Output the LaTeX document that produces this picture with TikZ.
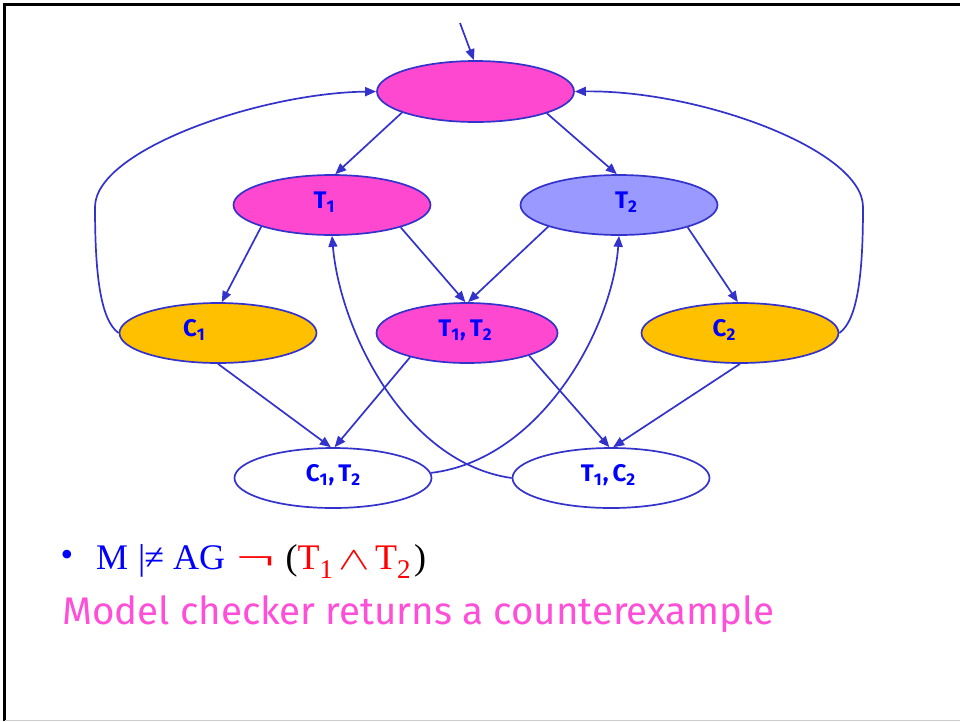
\documentclass[tikz,border=0pt]{standalone}
\usepackage{graphicx}
\usepackage{fontspec}
\setmainfont{Liberation Serif}
\newfontfamily\labfont{Fira Sans}
\newfontfamily\casualfont{Fira Sans}
\usetikzlibrary{shapes.geometric,arrows.meta}
\definecolor{edgeblue}{HTML}{3333CC}
\definecolor{pinkfill}{HTML}{FF48D0}
\definecolor{lavfill}{HTML}{9999FF}
\definecolor{goldfill}{HTML}{FFC000}
\definecolor{labblue}{HTML}{0000FF}
\definecolor{pinktext}{HTML}{FF4FD8}
\definecolor{fred}{HTML}{FF0000}
\definecolor{fblue}{HTML}{0000FF}
\newcommand{\labsub}[1]{\raisebox{-4pt}{\fontsize{17}{18}\selectfont #1}}
\begin{document}
\begin{tikzpicture}[x=1pt,y=-1pt,
  state/.style={ellipse, draw=edgeblue, line width=1.7pt, inner sep=0pt,
    minimum width=197pt, minimum height=60pt},
  lab/.style={font=\labfont\bfseries\fontsize{24}{26}\selectfont, text=labblue, inner sep=0pt},
  conn/.style={draw=edgeblue, line width=1.7pt, -{Triangle[length=11pt,width=9pt]}},
  frameline/.style={draw=black, line width=2.5pt},
]
\useasboundingbox (0,0) rectangle (960,721);
\fill[white] (0,0) rectangle (960,721);
% frame
\draw[frameline] (3.2,4.5) -- (960,4.5);
\draw[frameline] (4.5,3.2) -- (4.5,721);
\draw[gray!40, line width=1pt] (4.5,720.5) -- (960,720.5);

% states
\node[state, fill=pinkfill, minimum width=197pt, minimum height=61pt] (top) at (475.5,91.5) {};
\node[state, fill=pinkfill, label={[lab,xshift=-8pt,yshift=3pt]center:T\labsub{1}}] (t1) at (332,205) {};
\node[state, fill=lavfill, label={[lab,xshift=7pt,yshift=3pt]center:T\labsub{2}}] (t2) at (619,205) {};
\node[state, fill=goldfill, label={[lab,xshift=-24pt,yshift=3pt]center:C\labsub{1}}] (c1) at (218,333) {};
\node[state, fill=pinkfill, minimum width=181pt, label={[lab,xshift=-2pt,yshift=3pt]center:{T\labsub{1}\kern1pt,\kern4pt T\labsub{2}}}] (t1t2) at (467,333) {};
\node[state, fill=goldfill, label={[lab,xshift=-16pt,yshift=3pt]center:C\labsub{2}}] (c2) at (740,333) {};
\node[state, fill=white, label={[lab,xshift=0pt,yshift=3pt]center:{C\labsub{1}\kern1pt,\kern4pt T\labsub{2}}}] (c1t2) at (333,478) {};
\node[state, fill=white, label={[lab,xshift=-3pt,yshift=3pt]center:{T\labsub{1}\kern1pt,\kern4pt C\labsub{2}}}] (t1c2) at (611,478) {};
\coordinate (init) at (460,23);

% straight transitions
\draw[conn] (init) -- (top.93);
\draw[conn] (top.196) -- (t1.84);
\draw[conn] (top.343.6) -- (t2.94);
\draw[conn] (t1.197) -- (c1.83);
\draw[conn] (t1.342) -- (t1t2.93);
\draw[conn] (t2.197) -- (t1t2.88);
\draw[conn] (t2.342.6) -- (c2.94);
\draw[conn] (c1.270) -- (c1t2.94);
\draw[conn] (t1t2.203.6) -- (c1t2.87);
\draw[conn] (t1t2.340) -- (t1c2.93);
\draw[conn] (c2.270) -- (t1c2.86);

% curved transitions
\draw[conn] (c1t2.3) .. controls (540,460) and (612,330) .. (t2.270);
\draw[conn] (t1c2.180) .. controls (405,463) and (340,330) .. (t1.270);
\draw[conn] (c1.180) .. controls (100,320) and (95,272) .. (95,207)
   .. controls (95,150) and (260,93) .. (top.180);
\draw[conn] (c2.0) .. controls (858,320) and (863,272) .. (863,207)
   .. controls (863,150) and (700,90) .. (top.0);

% text
\node[text=fblue, font=\fontsize{36}{40}\selectfont, inner sep=0pt] (bullet) at (67,558) {•};
\node[anchor=base west, inner sep=0pt, font=\fontsize{36}{40}\selectfont] (formula) at (96,569)
  {\color{fblue}M\hspace{10pt}|\kern-1pt≠\hspace{9pt}AG\hspace{11pt}\color{fred}\scalebox{1.9}[1]{¬}\hspace{11pt}\color{black}(\color{fred}T\textsubscript{\fontsize{27}{28}\selectfont 1}\hspace{5pt}\scalebox{1.9}[1.3]{$\wedge$}\hspace{5pt}T\textsubscript{\fontsize{27}{28}\selectfont 2}\hspace{3pt}\color{black})};
\node[anchor=base west, inner sep=0pt, text=pinktext, font=\casualfont\fontsize{38.5}{40}\selectfont] (msg) at (62,624)
  {Model checker returns a counterexample};
\end{tikzpicture}
\end{document}
